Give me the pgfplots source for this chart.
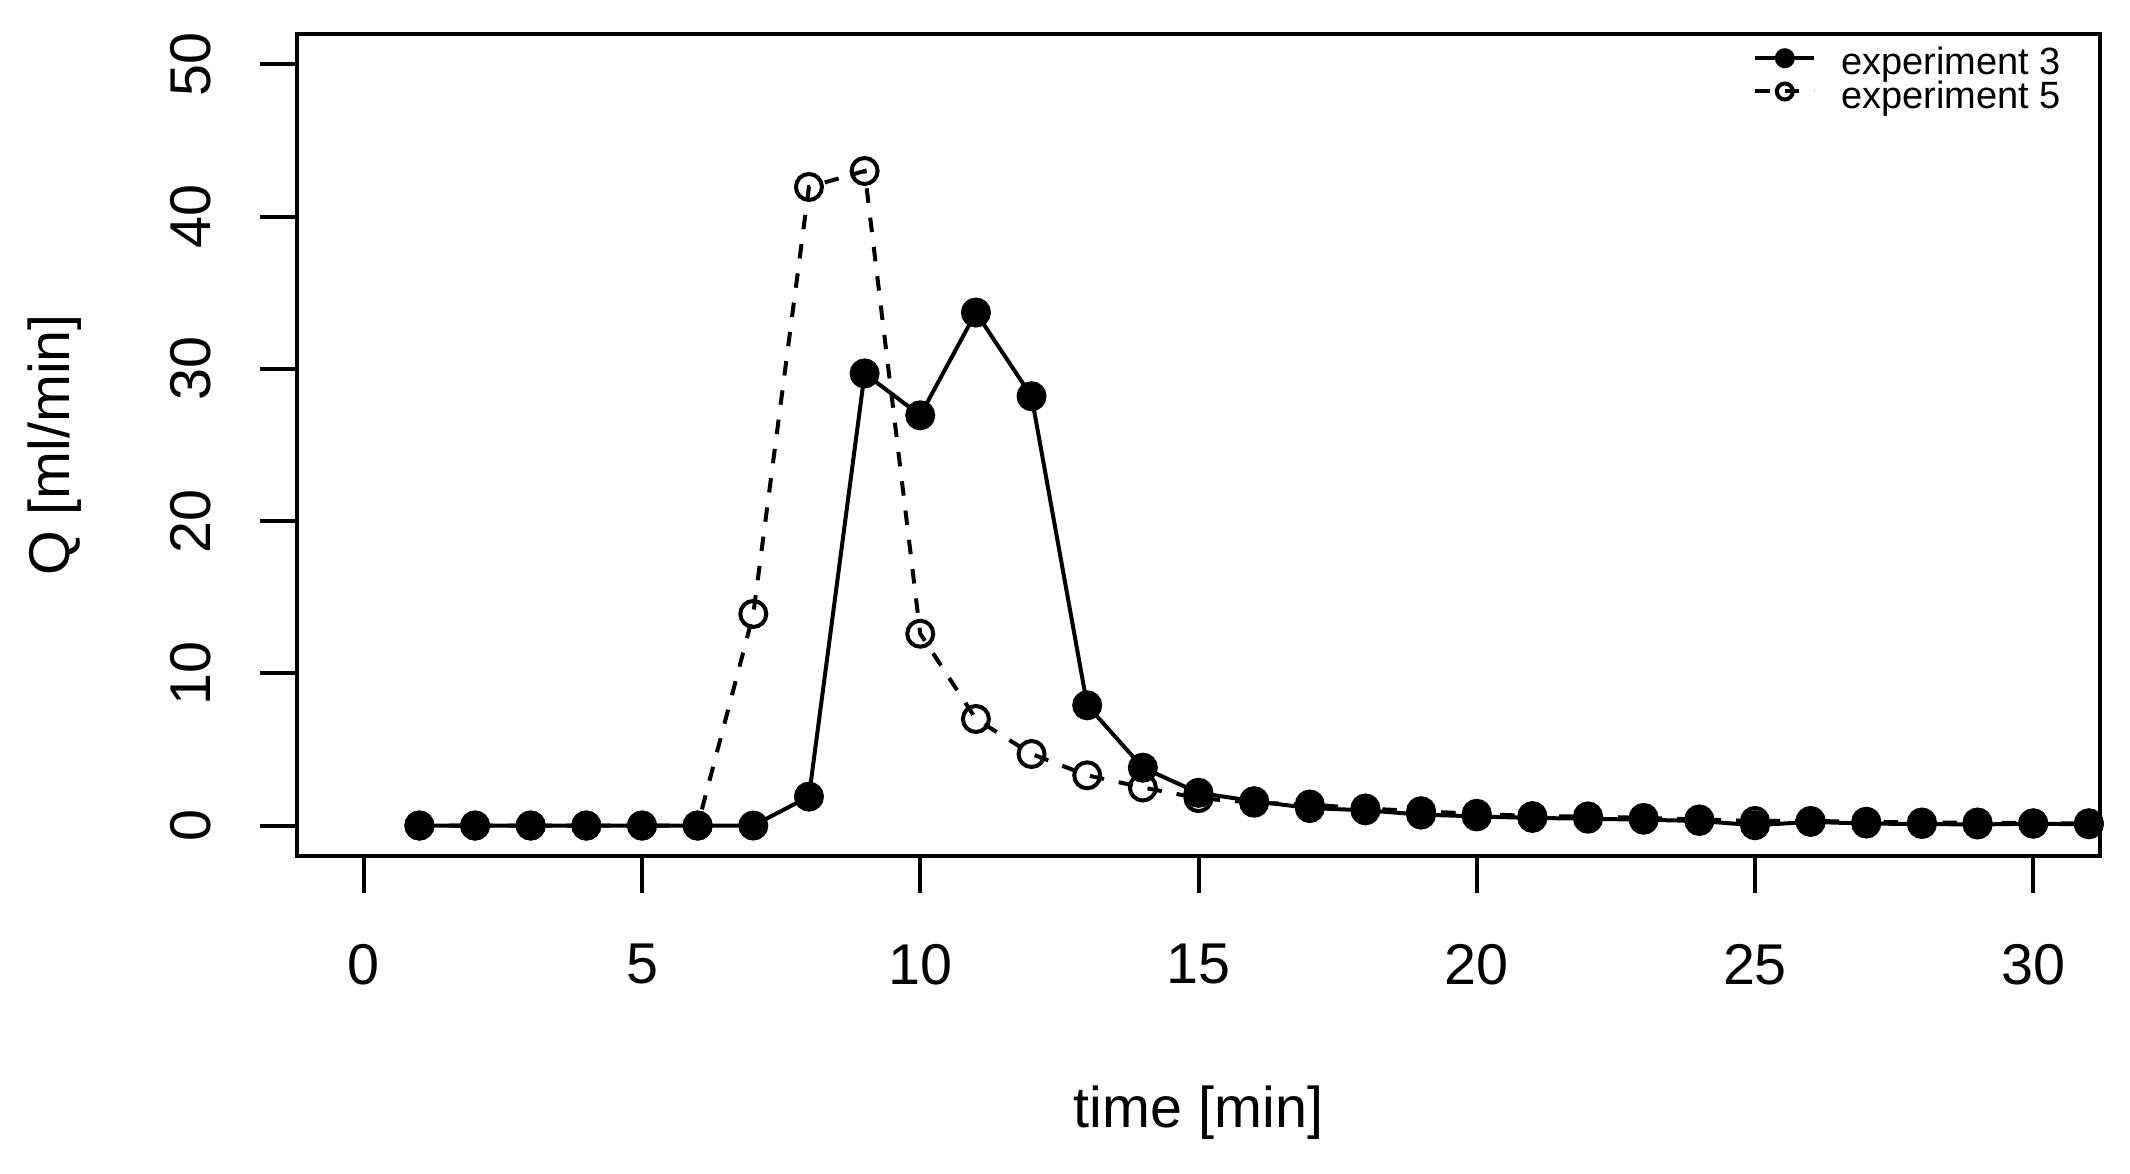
\documentclass[border=0pt]{standalone}
\usepackage{pgfplots}
\pgfplotsset{compat=1.18}
\usepackage{fontspec}
\setmainfont{Liberation Sans}
\newcommand{\tickfont}{\fontsize{11.5}{13}\selectfont}
\newcommand{\legfont}{\fontsize{7.6}{8}\selectfont}
\begin{document}
\begin{tikzpicture}
\begin{axis}[
  scale only axis,
  width=360.6pt, height=164.4pt,
  xmin=-1.2, xmax=31.2, ymin=-2, ymax=52,
  axis line style={line width=0.8pt},
  every tick/.style={line width=0.8pt, black},
  tick align=outside,
  major tick length=7.4pt,
  xtick pos=bottom, ytick pos=left,
  xtick={0,5,10,15,20,25,30},
  ytick={0,10,20,30,40,50},
  /pgf/number format/assume math mode=true,
  ticklabel style={font=\tickfont, inner sep=0pt},
  xticklabel style={anchor=north, yshift=-10pt},
  yticklabel style={rotate=90, anchor=south, yshift=9.6pt},
  xlabel={time [min]},
  ylabel={Q [ml/min]},
  label style={font=\tickfont},
  xlabel style={at={(rel axis cs:0.5,0)}, anchor=center, yshift=-51.4pt},
  ylabel style={at={(rel axis cs:0,0.5)}, anchor=center, yshift=48.4pt},
  legend style={at={(rel axis cs:1,1)}, anchor=north east, xshift=-7.6pt, yshift=-3.05pt,
    draw=none, fill=none, inner sep=0pt, font=\legfont, column sep=5pt,
    nodes={inner sep=0pt, text height=4.6pt, text depth=1.7pt}},
  legend cell align=left,
  legend image code/.code={
    \draw[mark repeat=2, mark phase=2, #1, mark size=1.6pt] plot coordinates {(0pt,1.9pt) (5.9pt,1.9pt) (11.8pt,1.9pt)};
  },
]
\addplot[black, line width=0.8pt, mark=*, mark size=2.6pt, mark options={solid, fill=black}]
coordinates {
(1,0) (2,0) (3,0) (4,0) (5,0) (6,0) (7,0) (8,1.9) (9,29.7) (10,26.95) (11,33.7)
(12,28.2) (13,7.9) (14,3.8) (15,2.15) (16,1.6) (17,1.15) (18,1.0) (19,0.72) (20,0.6)
(21,0.5) (22,0.45) (23,0.38) (24,0.3) (25,0.02) (26,0.24) (27,0.13) (28,0.1) (29,0.07)
(30,0.12) (31,0.08)
};
\addlegendentry{experiment 3}
\addplot[black, line width=0.8pt, dash pattern=on 2.9pt off 3pt, mark=o, mark size=2.6pt, mark options={solid}]
coordinates {
(1,0) (2,0) (3,0) (4,0) (5,0) (6,0) (7,13.9) (8,41.95) (9,43.0) (10,12.6) (11,7.0)
(12,4.7) (13,3.3) (14,2.5) (15,1.8) (16,1.5) (17,1.38) (18,1.12) (19,0.94) (20,0.77)
(21,0.62) (22,0.6) (23,0.5) (24,0.4) (25,0.3) (26,0.3) (27,0.25) (28,0.2) (29,0.2)
(30,0.15) (31,0.15)
};
\addlegendentry{experiment 5}
\coordinate (bl) at (rel axis cs:0,0);
\coordinate (tr) at (rel axis cs:1,1);
\end{axis}
\pgfresetboundingbox
\path[use as bounding box] ([xshift=-59.4pt,yshift=-63.6pt]bl) rectangle ([xshift=6pt,yshift=6.8pt]tr);
\end{tikzpicture}
\end{document}
